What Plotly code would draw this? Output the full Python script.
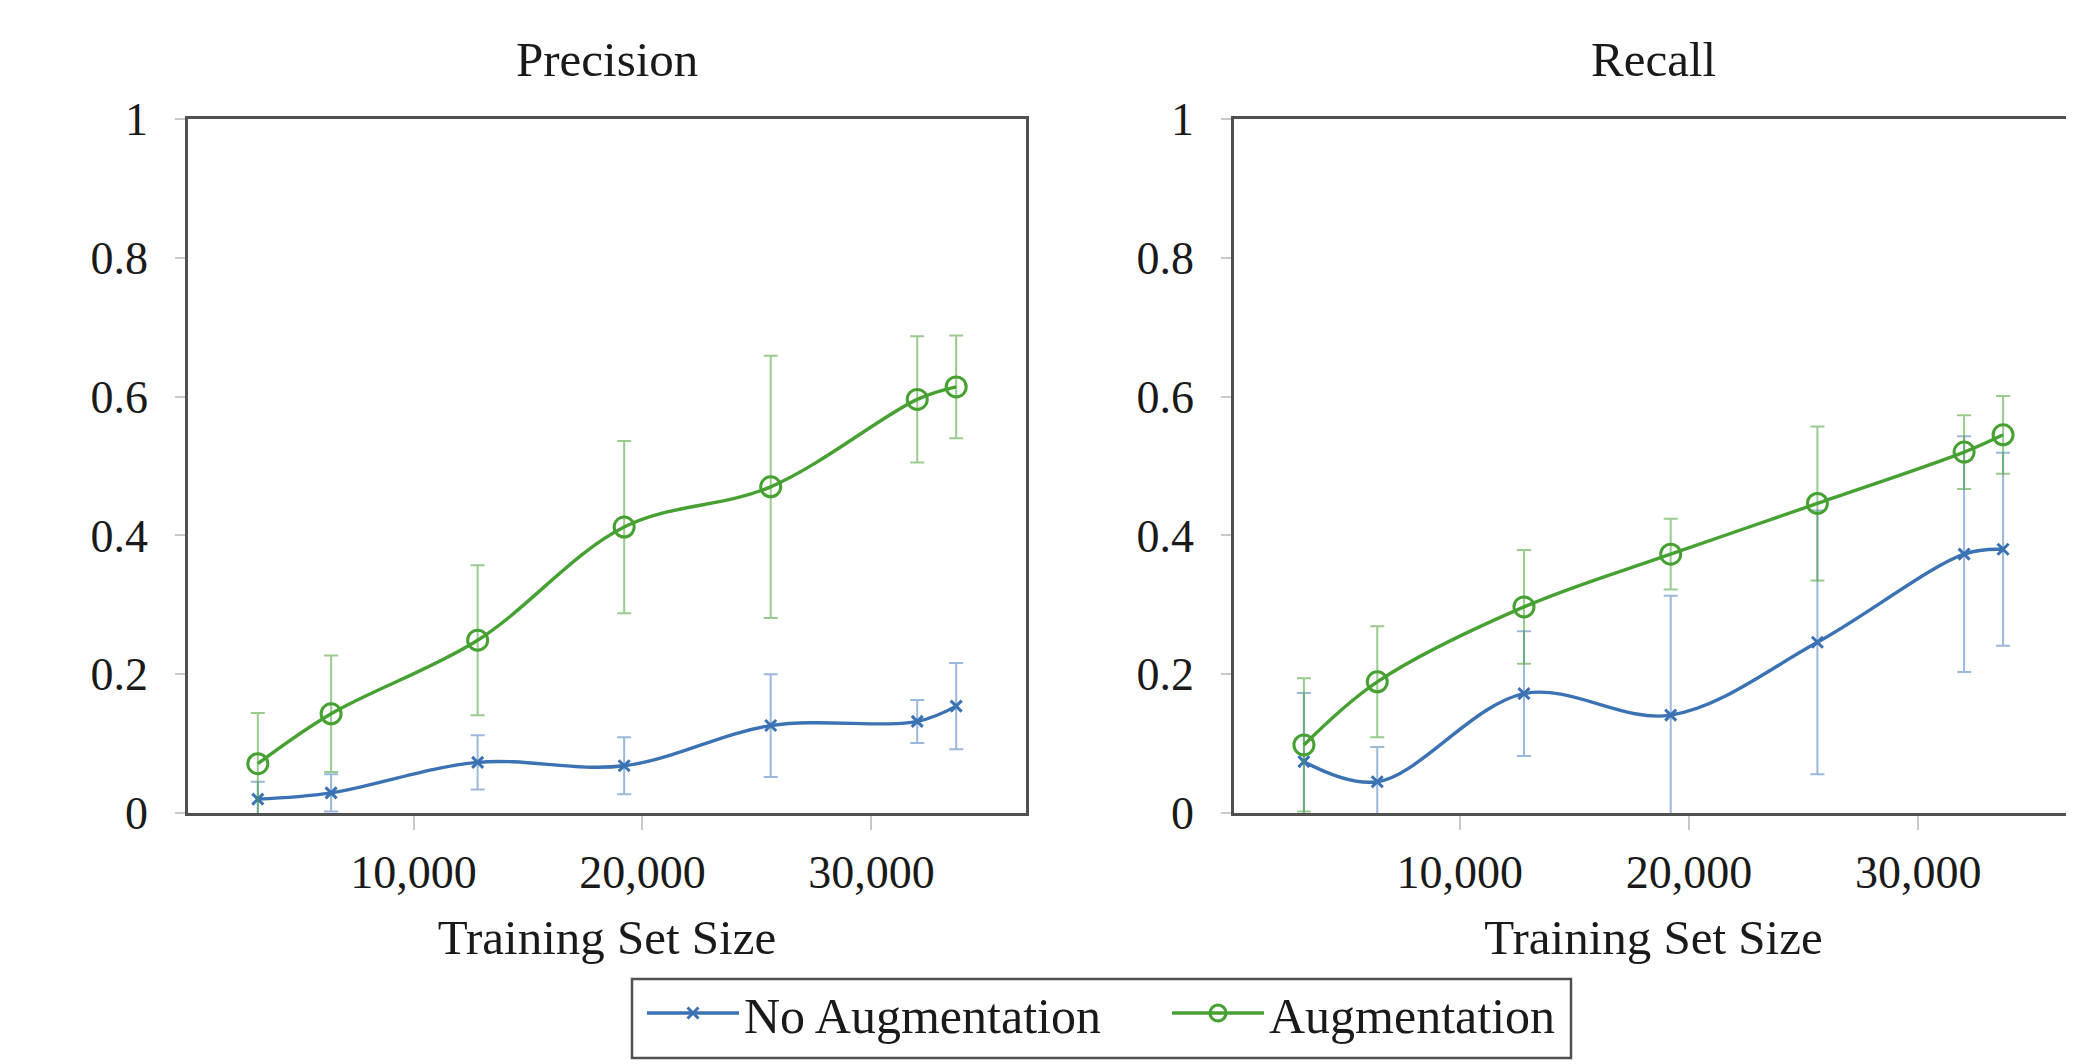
import plotly.graph_objects as go

train_size = [3200, 6400, 12800, 19200, 25600, 32000, 33700]

prec_noaug = [0.020, 0.029, 0.073, 0.068, 0.126, 0.132, 0.154]
prec_noaug_err = [0.025, 0.027, 0.039, 0.041, 0.074, 0.031, 0.062]
prec_aug = [0.071, 0.143, 0.249, 0.412, 0.470, 0.596, 0.614]
prec_aug_err = [0.073, 0.084, 0.108, 0.124, 0.189, 0.091, 0.074]

rec_noaug = [0.074, 0.045, 0.172, 0.141, 0.246, 0.373, 0.380]
rec_noaug_err = [0.099, 0.050, 0.090, 0.172, 0.190, 0.170, 0.139]
rec_aug = [0.098, 0.189, 0.297, 0.373, 0.446, 0.520, 0.545]
rec_aug_err = [0.096, 0.080, 0.082, 0.051, 0.111, 0.053, 0.056]

x_tickvals = [10000, 20000, 30000]
x_ticktext = ["10,000", "20,000", "30,000"]
y_tickvals = [0, 0.2, 0.4, 0.6, 0.8, 1]
y_ticktext = ["0", "0.2", "0.4", "0.6", "0.8", "1"]

series_names = ["No Augmentation", "Augmentation"]
panel_titles = ["Precision", "Recall"]

BLUE = "#3b72b4"
BLUE_ERR = "rgba(70,125,190,0.55)"
GREEN = "#46a032"
GREEN_ERR = "rgba(70,160,50,0.55)"
FRAME = "#505050"
FONT = "Liberation Serif"
FS_TICK = 46
FS_LABEL = 49
FS_LEG = 50
TXT = "#1a1a1a"

W, H = 2066, 1056   # page has an 8px body margin
OFF = 8

def fx(p):
    return (p - OFF) / W

def fy(p):
    return 1 - (p - OFF) / H

fig = go.Figure()

def add_pair(noaug, noaug_err, aug, aug_err, xa, ya, show):
    fig.add_trace(go.Scatter(
        x=train_size, y=noaug, name=series_names[0], mode="lines+markers",
        line=dict(color=BLUE, width=3.4, shape="spline", smoothing=1),
        marker=dict(symbol="x-thin", size=11, line=dict(color=BLUE, width=3), color=BLUE),
        error_y=dict(type="data", array=noaug_err, visible=True, color=BLUE_ERR,
                     thickness=2, width=7),
        xaxis=xa, yaxis=ya, showlegend=show, legendgroup="a"))
    fig.add_trace(go.Scatter(
        x=train_size, y=aug, name=series_names[1], mode="lines+markers",
        line=dict(color=GREEN, width=3.4, shape="spline", smoothing=1),
        marker=dict(symbol="circle-open", size=20, line=dict(color=GREEN, width=3), color=GREEN),
        error_y=dict(type="data", array=aug_err, visible=True, color=GREEN_ERR,
                     thickness=2, width=7),
        xaxis=xa, yaxis=ya, showlegend=show, legendgroup="b"))

add_pair(prec_noaug, prec_noaug_err, prec_aug, prec_aug_err, "x", "y", True)
add_pair(rec_noaug, rec_noaug_err, rec_aug, rec_aug_err, "x2", "y2", False)

ydom = [fy(813), fy(119)]
xdoms = [[fx(188), fx(1026)], [fx(1234), min(1.0, fx(2073))]]

axis_common = dict(showline=True, linecolor=FRAME, linewidth=2.5, mirror=True,
                   showgrid=False, zeroline=False, ticks="outside",
                   tickcolor="#c8c8c8", tickwidth=1.5,
                   tickfont=dict(family=FONT, size=FS_TICK, color=TXT),
                   automargin=False)

for i, (xa, ya) in enumerate([("xaxis", "yaxis"), ("xaxis2", "yaxis2")]):
    fig.update_layout(**{
        xa: dict(axis_common, domain=xdoms[i], range=[150, 36750],
                 tickvals=x_tickvals, ticktext=x_ticktext, ticklen=14,
                 ticklabelstandoff=3, anchor="y" if i == 0 else "y2",
                 title=dict(text="Training Set Size", standoff=23,
                            font=dict(family=FONT, size=FS_LABEL, color=TXT))),
        ya: dict(axis_common, domain=ydom, range=[0, 1],
                 tickvals=y_tickvals, ticktext=y_ticktext, ticklen=10,
                 ticklabelstandoff=18, anchor="x" if i == 0 else "x2"),
    })

for i, t in enumerate(panel_titles):
    cx = (xdoms[i][0] + xdoms[i][1]) / 2
    fig.add_annotation(text=t, x=cx, y=fy(60), xref="paper", yref="paper",
                       xanchor="center", yanchor="middle", showarrow=False,
                       font=dict(family=FONT, size=FS_LABEL, color=TXT))

# legend frame
fig.add_shape(type="rect", xref="paper", yref="paper",
              x0=fx(632), x1=fx(1571), y0=fy(1058), y1=fy(979),
              line=dict(color=FRAME, width=2.5), fillcolor="white", layer="below")

fig.update_layout(
    width=W, height=H,
    margin=dict(l=0, r=0, t=0, b=0),
    plot_bgcolor="white", paper_bgcolor="white",
    legend=dict(orientation="h", x=fx(642), xanchor="left", y=fy(974),
                yanchor="top", borderwidth=0, bgcolor="rgba(0,0,0,0)",
                font=dict(family=FONT, size=FS_LEG, color=TXT),
                itemwidth=92, entrywidth=418),
)

fig.write_html("out.html")
